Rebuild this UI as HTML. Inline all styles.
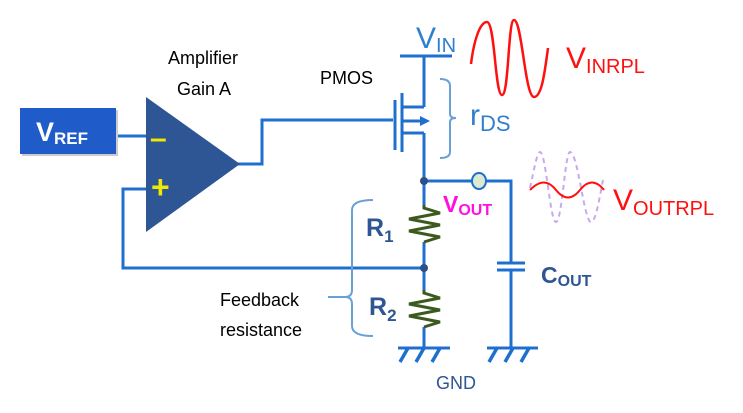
<!DOCTYPE html>
<html><head><style>body{margin:0;background:#fff}svg{display:block}</style></head><body>
<svg width="743" height="413" viewBox="0 0 743 413" xmlns="http://www.w3.org/2000/svg" font-family="Liberation Sans, sans-serif">
<g stroke="#1f6fcf" stroke-width="3" fill="none">
<line x1="400" y1="56" x2="452" y2="56"/>
<line x1="424" y1="56" x2="424" y2="107"/>
<line x1="402" y1="107" x2="424" y2="107"/>
<line x1="402" y1="133" x2="424" y2="133"/>
<line x1="424" y1="133" x2="424" y2="205"/>
<line x1="402" y1="121" x2="420" y2="121"/>
<line x1="402" y1="93" x2="402" y2="152"/>
<line x1="395" y1="100" x2="395" y2="150"/>
<polyline points="393,120 262,120 262,164 238,164"/>
<line x1="116" y1="136" x2="146" y2="136"/>
<polyline points="146,189 123,189 123,268 424,268"/>
<line x1="424" y1="242" x2="424" y2="290"/>
<line x1="424" y1="327" x2="424" y2="348"/>
<polyline points="424,181 511,181 511,263"/>
<line x1="511" y1="270" x2="511" y2="348"/>
<line x1="497" y1="263" x2="525" y2="263"/>
<line x1="497" y1="270" x2="525" y2="270"/>
<line x1="398" y1="348" x2="450" y2="348"/>
<line x1="487" y1="348" x2="538" y2="348"/>
<path d="M408 348 L400 362 M424 348 L416 362 M440 348 L432 362 M497 348 L489 362 M513 348 L505 362 M529 348 L521 362" stroke-width="3.5"/>
</g>
<polygon points="420,116 430,121 420,126" fill="#1f6fcf"/>
<circle cx="424" cy="181" r="4" fill="#2d4e8a"/>
<circle cx="424" cy="268" r="4" fill="#2d4e8a"/>
<ellipse cx="479" cy="181" rx="7" ry="8" fill="#dcebd0" stroke="#1f6fcf" stroke-width="2"/>
<g stroke="#3d5a1e" stroke-width="3" fill="none">
<polyline points="424,205 424,208 440,213 409,219 440,225 409,231 440,237 424,242"/>
<polyline points="424,290 424,293 440,298 409,304 440,310 409,316 440,322 424,327"/>
</g>
<g stroke="#6aa0d8" stroke-width="2" fill="none">
<path d="M373,200 Q352,200 352,210 L352,290 Q352,297 345,297 Q352,297 352,304 L352,326 Q352,336 373,336"/>
<line x1="328" y1="297" x2="345" y2="297"/>
<path d="M440,79 Q450,79 450,86 L450,114 Q450,118 456,118 Q450,118 450,122 L450,152 Q450,158 440,158"/>
</g>
<polygon points="146,97 146,232 240,164" fill="#2e5594"/>
<text x="150" y="148" font-size="30" fill="#f0e800" font-weight="bold">–</text>
<text x="151" y="198" font-size="32" fill="#f0e800" font-weight="bold">+</text>
<rect x="22" y="110" width="96" height="46" fill="#ccc"/>
<rect x="20" y="108" width="96" height="46" fill="#1f5bc9"/>
<text x="36" y="141" font-size="27" fill="#fff" font-weight="bold">V<tspan font-size="17" dy="3">REF</tspan></text>
<text x="168" y="64" font-size="18" fill="#000">Amplifier</text>
<text x="177" y="95" font-size="18" fill="#000">Gain A</text>
<text x="320" y="84" font-size="18" fill="#000">PMOS</text>
<text x="220" y="306" font-size="18" fill="#000">Feedback</text>
<text x="220" y="336" font-size="18" fill="#000">resistance</text>
<text x="416" y="48" font-size="30" fill="#2f7fd0">V<tspan font-size="20" dy="4">IN</tspan></text>
<text x="470" y="125" font-size="30" fill="#2f7fd0">r<tspan font-size="22" dy="6">DS</tspan></text>
<text x="566" y="68" font-size="30" fill="#ff1010">V<tspan font-size="20" dy="5">INRPL</tspan></text>
<text x="613" y="210" font-size="30" fill="#ff1010">V<tspan font-size="20" dy="5">OUTRPL</tspan></text>
<text x="443" y="212" font-size="23" fill="#ff10e0" font-weight="bold">V<tspan font-size="16" dy="3">OUT</tspan></text>
<text x="541" y="283" font-size="23" fill="#2e5594" font-weight="bold">C<tspan font-size="16" dy="3">OUT</tspan></text>
<text x="366" y="236" font-size="25" fill="#2e5594" font-weight="bold">R<tspan font-size="17" dy="6">1</tspan></text>
<text x="369" y="315" font-size="25" fill="#2e5594" font-weight="bold">R<tspan font-size="17" dy="6">2</tspan></text>
<text x="436" y="389" font-size="18" fill="#2e5594">GND</text>
<path d="M471,64 C474,40 480,22 487,22 C495,22 495,95 502,95 C509,95 508,20 514,20 C522,20 525,97 534,97 C542,97 545,70 548,48" stroke="#ff1010" stroke-width="2.5" fill="none"/>
<path d="M530,188 C534,170 537,152 540,152 C546,152 550,222 556,222 C562,222 565,152 570,152 C578,152 584,222 591,222 C596,222 600,195 603,180" stroke="#c9a8f0" stroke-width="2" stroke-dasharray="5,4" fill="none"/>
<path d="M530,190 C540,180 548,180 556,190 S572,200 580,190 S596,180 604,190" stroke="#ff1010" stroke-width="2" fill="none"/>
</svg>
</body></html>
